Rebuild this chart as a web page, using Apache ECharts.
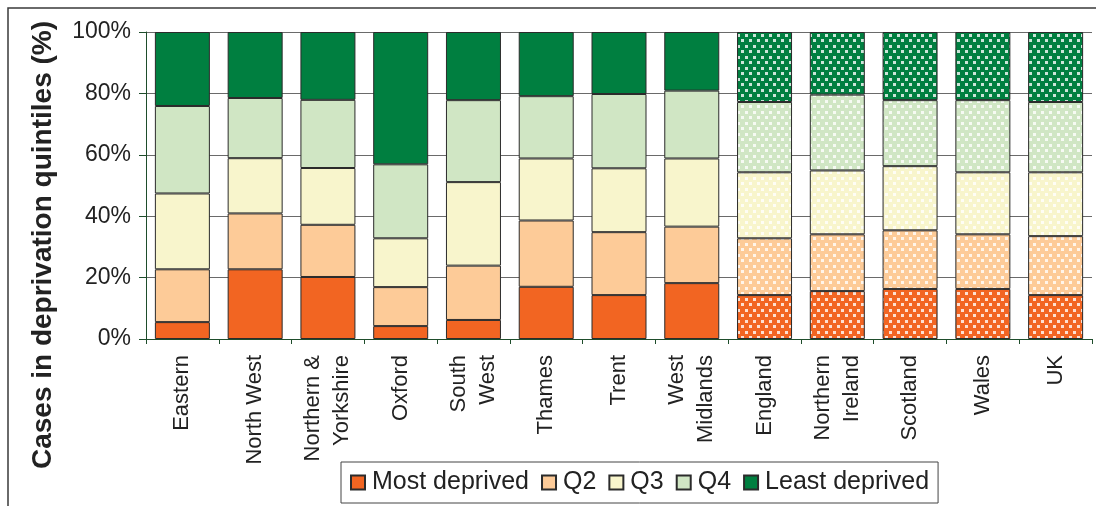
<!DOCTYPE html>
<html>
<head>
<meta charset="utf-8">
<script src="https://cdn.jsdelivr.net/npm/echarts@6/dist/echarts.min.js"></script>
<style>
  html, body { margin: 0; padding: 0; background: #fff; }
  #chart { width: 1096px; height: 506px; }
</style>
</head>
<body>
<div id="chart"></div>
<script>
// Regions first, then the four nations + UK (drawn with a dotted fill)
const categories = ['Eastern', 'North West', 'Northern &\nYorkshire', 'Oxford', 'South\nWest', 'Thames', 'Trent',
  'West\nMidlands', 'England', 'Northern\nIreland', 'Scotland', 'Wales', 'UK']
const nations = ['England', 'Northern\nIreland', 'Scotland', 'Wales', 'UK']

const quintileNames = ['Most deprived', 'Q2', 'Q3', 'Q4', 'Least deprived']
const mostDeprived = [5.5, 22.7, 20.2, 4.2, 6.2, 17.0, 14.3, 18.2, 14.3, 15.6, 16.3, 16.3, 14.3]
const q2 = [17.2, 18.2, 17.0, 12.7, 17.7, 21.6, 20.5, 18.4, 18.5, 18.5, 19.1, 17.8, 19.2]
const q3 = [24.7, 18.0, 18.5, 15.9, 27.2, 20.2, 20.8, 22.2, 21.5, 20.8, 20.9, 20.2, 20.8]
const q4 = [28.5, 19.6, 22.2, 24.1, 26.7, 20.3, 24.2, 22.1, 22.9, 24.7, 21.5, 23.5, 22.9]
const leastDeprived = [24.1, 21.5, 22.1, 43.1, 22.2, 20.9, 20.2, 19.1, 22.8, 20.4, 22.2, 22.2, 22.8]

const yTicks = [0, 20, 40, 60, 80, 100]

const palette = ['#F26522', '#FDCB98', '#F8F5CC', '#D0E6C4', '#007F40']
const font = '"Liberation Sans", Arial, Helvetica, sans-serif'
const axisGreen = '#1e4d2b'

// staggered white squares on the base colour
function dotted(color) {
  const c = document.createElement('canvas')
  c.width = 8
  c.height = 11
  const ctx = c.getContext('2d')
  ctx.fillStyle = color
  ctx.fillRect(0, 0, 8, 11)
  ctx.fillStyle = 'rgba(255,255,255,0.8)'
  ctx.fillRect(1, 1, 3, 3)
  ctx.fillRect(5, 6, 3, 3)
  return { image: c, repeat: 'repeat' }
}

function seriesData(values, color) {
  return values.map((v, i) => nations.includes(categories[i])
    ? { value: v, itemStyle: { color: dotted(color) } }
    : v)
}

const chart = echarts.init(document.getElementById('chart'))

const series = [mostDeprived, q2, q3, q4, leastDeprived].map((vals, k) => ({
  name: quintileNames[k],
  type: 'bar',
  stack: 'total',
  barWidth: 55,
  data: seriesData(vals, palette[k]),
  itemStyle: { color: palette[k], borderColor: '#2b2b2b', borderWidth: 1 },
}))

chart.setOption({
  animation: false,
  textStyle: { fontFamily: font },
  grid: { left: 146, right: 4, top: 32, bottom: 167, containLabel: false },
  legend: {
    data: quintileNames,
    left: 341,
    top: 462,
    padding: [8, 9],
    itemWidth: 14,
    itemHeight: 14,
    itemGap: 12,
    icon: 'rect',
    borderColor: '#444',
    borderWidth: 1,
    backgroundColor: '#fff',
    textStyle: { fontSize: 25, color: '#222', fontFamily: font, padding: [0, 0, 0, 2] },
  },
  xAxis: {
    type: 'category',
    data: categories,
    axisLine: { lineStyle: { color: axisGreen } },
    axisTick: { show: true, interval: 0, length: 5, lineStyle: { color: axisGreen } },
    axisLabel: { interval: 0, rotate: 90, margin: 16, fontSize: 22, lineHeight: 29, color: '#222', fontFamily: font },
  },
  yAxis: {
    type: 'value',
    min: yTicks[0],
    max: yTicks[yTicks.length - 1],
    interval: yTicks[1] - yTicks[0],
    axisLine: { show: true, lineStyle: { color: axisGreen } },
    axisTick: { show: true, length: 7, lineStyle: { color: axisGreen } },
    axisLabel: { formatter: '{value}%', fontSize: 23, margin: 15, color: '#222', fontFamily: font },
    splitLine: { lineStyle: { color: '#6a6a6a', width: 1 } },
  },
  graphic: [
    {
      type: 'polyline',
      shape: { points: [[8, 506], [8, 8], [1096, 8]] },
      style: { stroke: '#3a3a3a', lineWidth: 1.5, fill: null },
      silent: true,
    },
    {
      type: 'text',
      x: 43,
      y: 245,
      rotation: Math.PI / 2,
      style: {
        text: 'Cases in deprivation quintiles (%)',
        fontSize: 28,
        fontWeight: 'bold',
        fontFamily: font,
        fill: '#222',
        align: 'center',
        verticalAlign: 'middle',
      },
      silent: true,
    },
  ],
  series,
})
</script>
</body>
</html>
